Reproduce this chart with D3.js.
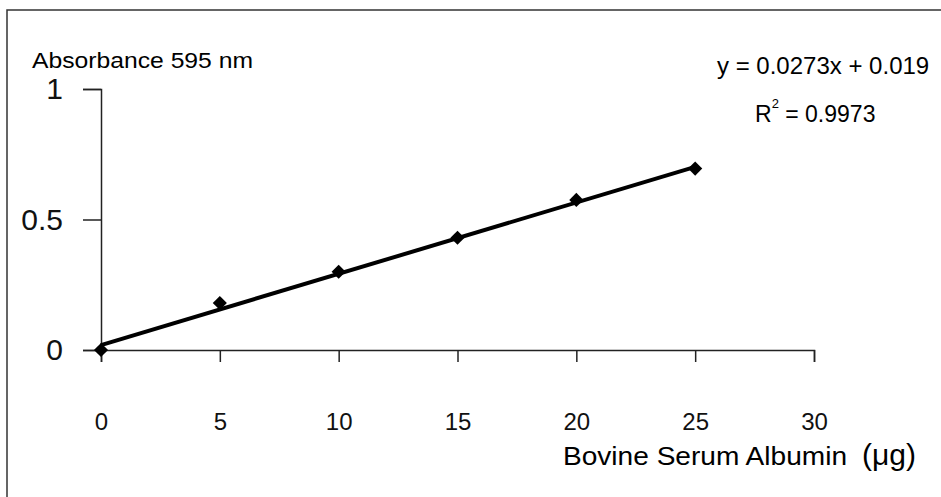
<!DOCTYPE html>
<html>
<head>
<meta charset="utf-8">
<script src="https://cdn.jsdelivr.net/npm/d3@7"></script>
<style>
  body { margin: 0; background: #fff; }
  svg { display: block; font-family: "Liberation Sans", Arial, sans-serif; }
  .axis path, .axis line { stroke: #222; stroke-width: 1.5; }
  .axis text { fill: #111; }
</style>
</head>
<body>
<div id="chart"></div>
<script>
// standard curve values
const bsaUg = [0, 5, 10, 15, 20, 25];
const absorbance = [0, 0.18, 0.30, 0.43, 0.575, 0.695];
const xTicks = [0, 5, 10, 15, 20, 25, 30];
const yTicks = [0, 0.5, 1];
const slope = 0.0273, intercept = 0.019;
const eqLabel = 'y = 0.0273x + 0.019';
const r2Value = '0.9973';

const width = 941, height = 497;

const svg = d3.select('#chart').append('svg')
    .attr('width', width)
    .attr('height', height);

// frame (only top and left edges show in the scan)
svg.append('path')
    .attr('d', 'M7,' + height + 'V10H' + width)
    .attr('fill', 'none')
    .attr('stroke', '#333')
    .attr('stroke-width', 1.5);

const x = d3.scaleLinear().domain([0, 30]).range([101, 814]);
const y = d3.scaleLinear().domain([0, 1]).range([350, 89]);

// x axis
svg.append('g')
    .attr('class', 'axis')
    .attr('transform', 'translate(0,' + y(0) + ')')
    .call(d3.axisBottom(x).tickValues(xTicks).tickSize(12).tickPadding(51).tickFormat(d3.format('d')))
    .call(g => g.selectAll('text').style('font-size', '24px'));

// y axis
svg.append('g')
    .attr('class', 'axis')
    .attr('transform', 'translate(' + x(0) + ',0)')
    .call(d3.axisLeft(y).tickValues(yTicks).tickSize(18).tickPadding(20).tickFormat(d => d))
    .call(g => g.selectAll('text').style('font-size', '30px'));

// fitted line
const fit = [0, 25];
svg.append('path')
    .datum(fit)
    .attr('fill', 'none')
    .attr('stroke', '#000')
    .attr('stroke-width', 4)
    .attr('d', d3.line().x(d => x(d)).y(d => y(slope * d + intercept)));

// points
svg.selectAll('.pt')
    .data(bsaUg)
    .enter()
    .append('path')
    .attr('class', 'pt')
    .attr('d', d3.symbol().type(d3.symbolSquare).size(100))
    .attr('transform', (d, i) => 'translate(' + x(d) + ',' + y(absorbance[i]) + ') rotate(45)')
    .attr('fill', '#000');

// labels
svg.append('text')
    .attr('x', 32).attr('y', 68)
    .style('font-size', '22px')
    .attr('textLength', 221)
    .attr('lengthAdjust', 'spacingAndGlyphs')
    .text('Absorbance 595 nm');

svg.append('text')
    .attr('x', 717).attr('y', 74)
    .style('font-size', '24px')
    .text(eqLabel);

const r2 = svg.append('text')
    .attr('x', 755).attr('y', 122)
    .style('font-size', '23px');
r2.append('tspan').text('R');
r2.append('tspan').attr('dy', -14).style('font-size', '13px').text('2');
r2.append('tspan').attr('dy', 14).text(' = ' + r2Value);

svg.append('text')
    .attr('x', 563).attr('y', 465)
    .style('font-size', '25px')
    .attr('textLength', 284)
    .attr('lengthAdjust', 'spacingAndGlyphs')
    .text('Bovine Serum Albumin');

svg.append('text')
    .attr('x', 862).attr('y', 465)
    .style('font-size', '30px')
    .text('(μg)');
</script>
</body>
</html>
